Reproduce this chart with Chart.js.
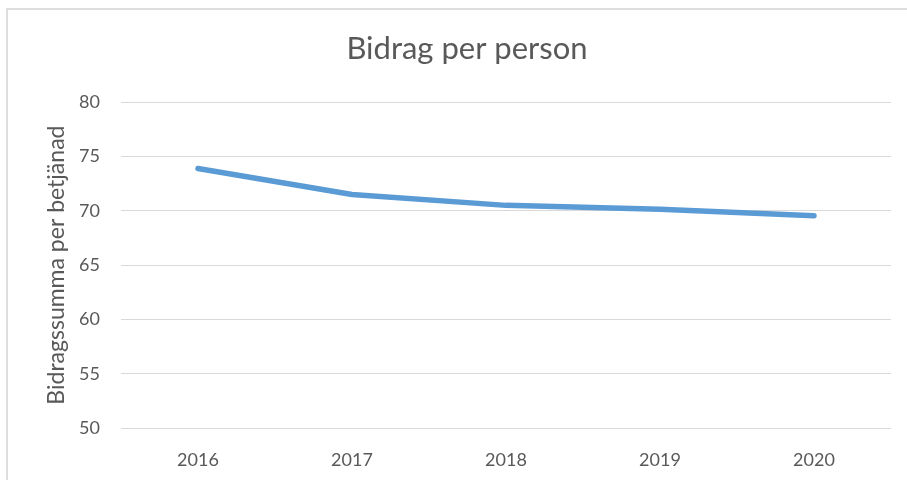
<!DOCTYPE html>
<html>
<head>
<meta charset="utf-8">
<script src="https://cdn.jsdelivr.net/npm/chart.js@4"></script>
<style>
    body { margin: 0; background: #fff; overflow: hidden; }
    #frame { position: absolute; left: 6px; top: 8px; width: 920px; height: 490px; border: 2px solid #dedede; }
    #wrap { position: absolute; left: 0; top: 0; width: 907px; height: 480px; }
</style>
</head>
<body>
<div id="frame"></div>
<div id="wrap"><canvas id="lineChart" width="907" height="480"></canvas></div>
<script>
// Bidrag per person
const years = ['2016', '2017', '2018', '2019', '2020'];
const bidrag = [73.9, 71.5, 70.5, 70.15, 69.55];
const yTicks = [50, 55, 60, 65, 70, 75, 80];

const textColor = '#595959';
const fontFamily = 'Lato, "Noto Sans", sans-serif';

document.addEventListener('DOMContentLoaded', function() {
    const ctx = document.getElementById('lineChart');
    new Chart(ctx.getContext('2d'), {
        type: 'line',
        data: {
            labels: years,
            datasets: [{
                label: 'Bidrag per person',
                data: bidrag,
                borderColor: '#5B9BD5',
                borderWidth: 5.5,
                borderCapStyle: 'round',
                borderJoinStyle: 'round',
                pointRadius: 0,
                fill: false,
                tension: 0
            }]
        },
        options: {
            responsive: false,
            animation: false,
            layout: { padding: { left: 43, right: 16, top: 0, bottom: 0 } },
            scales: {
                x: {
                    offset: true,
                    afterFit: function(scale) { scale.height = 52; },
                    grid: { display: false, drawTicks: false },
                    border: { display: false },
                    ticks: { color: textColor, padding: 21, font: { family: fontFamily, size: 18 } }
                },
                y: {
                    min: yTicks[0],
                    max: yTicks[yTicks.length - 1],
                    afterBuildTicks: function(scale) { scale.ticks = yTicks.map(v => ({ value: v })); },
                    afterFit: function(scale) { scale.width = 78; },
                    grid: { color: '#d9d9d9', lineWidth: 1, drawTicks: false },
                    border: { display: false },
                    ticks: { color: textColor, padding: 21, font: { family: fontFamily, size: 18 } },
                    title: {
                        display: true,
                        text: 'Bidragssumma per betjänad',
                        color: textColor,
                        font: { family: fontFamily, size: 23 },
                        padding: { top: 0, bottom: 0 }
                    }
                }
            },
            plugins: {
                legend: { display: false },
                tooltip: { enabled: false },
                title: {
                    display: true,
                    text: 'Bidrag per person',
                    color: textColor,
                    font: { family: fontFamily, size: 31, weight: 'normal' },
                    padding: { top: 30, bottom: 35 }
                }
            }
        }
    });
});
</script>
</body>
</html>
